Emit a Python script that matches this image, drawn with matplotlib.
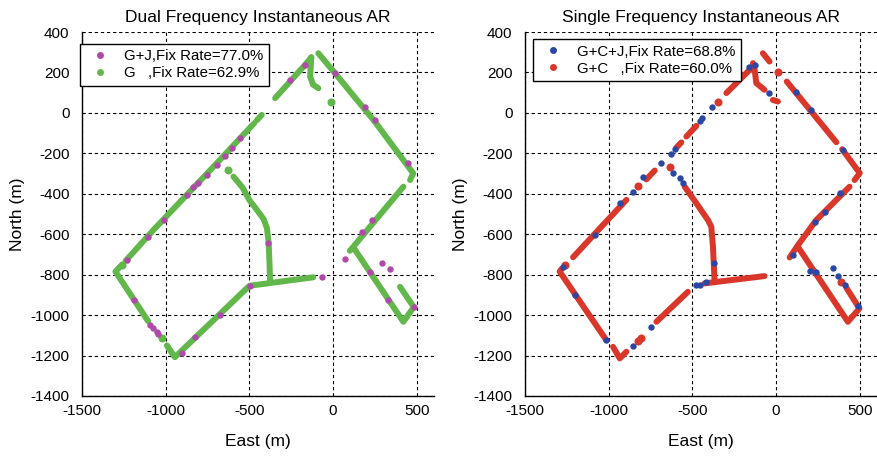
import matplotlib
matplotlib.use('Agg')
import matplotlib.pyplot as plt

plt.rcParams['font.family'] = ['Liberation Sans', 'DejaVu Sans']
plt.rcParams['axes.unicode_minus'] = False

# ---------------- dual frequency (left) ----------------
# G+J fixed epochs that show through (magenta dots)
gj_x = [-167, -257, -555, -605, -645, -694, -754, -804, -834, -873, -1013, -1103,
        -1232, -1192, -1093, -1073, -1053, -1043, -903, -824, -675, -495, -68,
        -386, 72, 221, 291, 340, 330, 484, 12, 191, 251, 450, 231, 171]
gj_y = [238, 163, -125, -175, -213, -257, -307, -348, -365, -406, -530, -612,
        -728, -926, -1049, -1066, -1083, -1094, -1186, -1107, -1000, -856, -810,
        -645, -724, -785, -741, -774, -925, -962, 196, 31, -35, -249, -530, -588]

# G fixed epochs, dense stretches of track (green)
g_tracks = [
    [(-130, 275), (-167, 238), (-346, 73)],
    [(-426, -10), (-455, -36)],
    [(-470, -50), (-704, -257), (-1073, -579), (-1240, -732)],
    [(-130, 275), (-137, 180), (-120, 140), (-88, 122)],
    [(-88, 295), (12, 196), (251, -45), (479, -299), (460, -332)],
    [(-1275, -762), (-1300, -785), (-1105, -1030)],
    [(-993, -1150), (-945, -1208), (-500, -855), (-118, -813)],
    [(-595, -315), (-540, -370), (-500, -431), (-455, -480), (-415, -525),
     (-395, -570), (-385, -640), (-380, -740), (-376, -840)],
    [(420, -365), (121, -662), (100, -682)],
    [(121, -665), (420, -1033), (482, -960), (400, -860)],
]
g_x = [-1264, -1023, -625, -12]
g_y = [-750, -1112, -282, 56]

# ---------------- single frequency (right) ----------------
gcj_x = [-128, -162, -381, -441, -457, -606, -626, -685, -795, -855, -934, -1084,
         -1273, -1203, -1014, -855, -745, -476, -457, -417, -616, -576, -556,
         -373, -45, 121, 210, 399, 379, 290, 230, 100, 409, 369, 339, 200, 240, 488]
gcj_y = [238, 229, 31, -26, -38, -178, -203, -249, -318, -389, -447, -604,
         -761, -901, -1124, -1152, -1058, -851, -851, -835, -299, -323, -348,
         -744, 97, 105, 15, -183, -397, -489, -538, -703, -851, -807, -769,
         -781, -787, -955]

gc_tracks = [
    [(-148, 221), (-297, 98)],
    [(-138, 246), (-128, 213), (-118, 147), (-69, 114)],
    [(-79, 295), (-39, 254)],
    [(-19, 64), (11, 56)],
    [(64, 155), (360, -145)],
    [(395, -180), (500, -298), (469, -332)],
    [(439, -365), (240, -530), (130, -655), (81, -715)],
    [(130, -662), (429, -1033), (498, -967), (420, -865)],
    [(-476, -64), (-536, -117)],
    [(-566, -146), (-596, -172)],
    [(-725, -285), (-775, -329)],
    [(-894, -430), (-1073, -589), (-1213, -714)],
    [(-1280, -770), (-1293, -785), (-1014, -1124)],
    [(-974, -1157), (-934, -1214), (-894, -1181)],
    [(-715, -1033), (-527, -885)],
    [(-427, -843), (-69, -807)],
    [(-546, -365), (-476, -447), (-407, -530), (-387, -563), (-377, -662),
     (-367, -838)],
]
gc_x = [11, 389, -347, -825, -1263, -825, -805, -636]
gc_y = [201, -835, 56, -360, -752, -1127, -1115, -266]

xticks = [-1500, -1000, -500, 0, 500]
yticks = list(range(-1400, 401, 200))

c_mag = '#b04aa8'
c_green = '#62b74b'
c_blue = '#2b46a3'
c_red = '#da372b'


def draw_panel(ax, tracks, top_x, top_y, base_x, base_y, top_c, base_c,
               base_lab, top_lab, title, leg_anchor):
    for tr in tracks:
        xs = [p[0] for p in tr]
        ys = [p[1] for p in tr]
        ax.plot(xs, ys, '-', color=top_c, lw=4.3, solid_capstyle='round',
                solid_joinstyle='round', zorder=2)
    ax.plot(top_x, top_y, 'o', color=top_c, ms=5.8, mew=0, zorder=2)
    ax.plot(base_x, base_y, 'o', color=base_c, ms=4.6, mew=0, zorder=3)

    ax.set_xlim(-1500, 600)
    ax.set_ylim(-1400, 400)
    ax.set_xticks(xticks)
    ax.set_yticks(yticks)
    ax.grid(True, color='black', linestyle=(0, (3, 2.5)), linewidth=0.8)
    ax.set_axisbelow(True)
    ax.spines['top'].set_visible(False)
    ax.spines['right'].set_visible(False)
    ax.spines['left'].set_linewidth(1.0)
    ax.spines['bottom'].set_linewidth(1.0)
    ax.tick_params(length=0, labelsize=11)
    ax.tick_params(axis='y', pad=9)
    ax.tick_params(axis='x', pad=6)
    ax.set_title(title, fontsize=12.5, pad=7)
    ax.set_xlabel('East (m)', fontsize=12.5, labelpad=11)
    ax.set_ylabel('North (m)', fontsize=12.5, labelpad=4)

    hb = plt.Line2D([], [], marker='o', ls='none', color=base_c, ms=5, mew=0)
    ht = plt.Line2D([], [], marker='o', ls='none', color=top_c, ms=5, mew=0)
    leg = ax.legend([hb, ht], [base_lab, top_lab], loc='upper left',
                    bbox_to_anchor=leg_anchor, fontsize=10.8, frameon=True,
                    fancybox=False, framealpha=1, edgecolor='black',
                    borderaxespad=0, handletextpad=0.6, borderpad=0.35,
                    labelspacing=0.2, handlelength=2.0)
    leg.get_frame().set_linewidth(1.0)


fig = plt.figure(figsize=(8.77, 4.57), dpi=100)
ax1 = fig.add_axes([82 / 877, 61 / 457, 351.5 / 877, 364 / 457])
ax2 = fig.add_axes([525 / 877, 61 / 457, 351.5 / 877, 364 / 457])

draw_panel(ax1, g_tracks, g_x, g_y, gj_x, gj_y, c_green, c_mag,
           'G+J,Fix Rate=77.0%', 'G   ,Fix Rate=62.9%',
           'Dual Frequency Instantaneous AR', (-0.005, 0.967))
draw_panel(ax2, gc_tracks, gc_x, gc_y, gcj_x, gcj_y, c_red, c_blue,
           'G+C+J,Fix Rate=68.8%', 'G+C   ,Fix Rate=60.0%',
           'Single Frequency Instantaneous AR', (0.022, 0.98))

fig.savefig('out.png', dpi=100)
